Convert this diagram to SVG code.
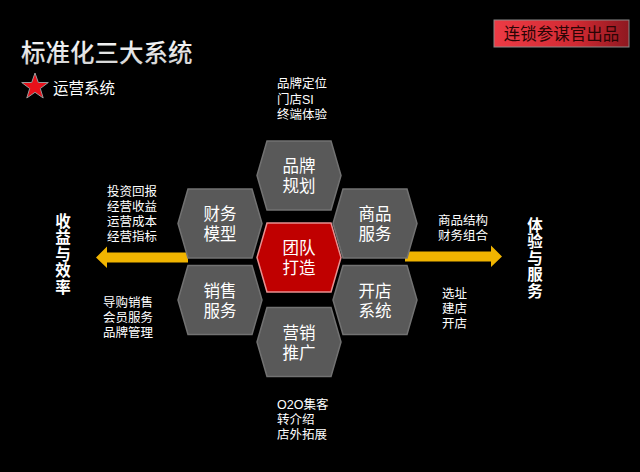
<svg xmlns="http://www.w3.org/2000/svg" width="640" height="472" viewBox="0 0 640 472">
<style>
text{font-family:"Noto Sans CJK SC","Noto Sans",sans-serif;fill:#fff}
.lbl{font-size:12.5px;font-family:"Liberation Sans","Noto Sans CJK SC",sans-serif}
.hx{font-size:16.5px;text-anchor:middle;font-family:"Liberation Sans","Noto Sans CJK SC",sans-serif}
.vt{font-size:15.5px;font-weight:bold;writing-mode:vertical-rl;letter-spacing:1px}
.hex{fill:#595959;stroke:#727272;stroke-width:1.5}
.hexc{fill:#c00000;stroke:#e89090;stroke-width:1.5}
.arr{fill:#f0b400}
</style>
<defs>
<linearGradient id="tag" x1="0" y1="0" x2="1" y2="0">
<stop offset="0" stop-color="#ec3b45"/>
<stop offset="0.6" stop-color="#d22a33"/>
<stop offset="1" stop-color="#8e1820"/>
</linearGradient>
<linearGradient id="ttl" x1="0" y1="0" x2="0" y2="1">
<stop offset="0" stop-color="#ffffff"/>
<stop offset="1" stop-color="#cfcfcf"/>
</linearGradient>
<polygon id="hexshape" points="-42,0 -32,-34.5 32,-34.5 42,0 32,34.5 -32,34.5"/>
</defs>
<rect width="640" height="472" fill="#000"/>

<g id="tag-label">
<rect x="494" y="20" width="135" height="27" fill="url(#tag)" stroke="#8a8a8a" stroke-width="1"/>
<text x="561.5" y="40" style="font-size:16.5px;fill:#2a0505" text-anchor="middle">连锁参谋官出品</text>
</g>

<g id="title">
<text x="21" y="62" style="font-size:24.5px;font-weight:500;fill:url(#ttl)">标准化三大系统</text>
</g>

<g id="legend">
<polygon points="35,73 38.3,82.5 48.3,82.5 40.3,88.5 43.2,98 35,92.3 26.8,98 29.7,88.5 21.7,82.5 31.7,82.5" fill="#e8101a" stroke="#9a9a9a" stroke-width="1"/>
<text x="53" y="94" style="font-size:15.5px">运营系统</text>
</g>

<g id="connectors">
<polygon class="arr" points="188,252.5 107,252.5 107,246.5 96,257.5 107,268 107,262.5 188,262.5"/>
<polygon class="arr" points="405,251.5 491,251.5 491,245.5 502,256.5 491,267 491,261.5 405,261.5"/>
</g>

<g id="node-brand">
<use href="#hexshape" class="hex" x="299" y="175.5"/>
<text class="hx" x="299" y="172">品牌<tspan x="299" dy="20">规划</tspan></text>
</g>
<g id="node-team">
<use href="#hexshape" class="hexc" x="299" y="257.5"/>
<text class="hx" x="299" y="254">团队<tspan x="299" dy="20">打造</tspan></text>
</g>
<g id="node-marketing">
<use href="#hexshape" class="hex" x="299" y="342"/>
<text class="hx" x="299" y="338.5">营销<tspan x="299" dy="20">推广</tspan></text>
</g>
<g id="node-finance">
<use href="#hexshape" class="hex" x="220" y="223.5"/>
<text class="hx" x="220" y="220">财务<tspan x="220" dy="20">模型</tspan></text>
</g>
<g id="node-sales">
<use href="#hexshape" class="hex" x="220" y="300"/>
<text class="hx" x="220" y="296.5">销售<tspan x="220" dy="20">服务</tspan></text>
</g>
<g id="node-goods">
<use href="#hexshape" class="hex" x="375" y="223.5"/>
<text class="hx" x="375" y="220">商品<tspan x="375" dy="20">服务</tspan></text>
</g>
<g id="node-store">
<use href="#hexshape" class="hex" x="375" y="300"/>
<text class="hx" x="375" y="296.5">开店<tspan x="375" dy="20">系统</tspan></text>
</g>

<g id="label-brand">
<text class="lbl" x="277" y="88">品牌定位<tspan x="277" dy="16">门店SI</tspan><tspan x="277" dy="15">终端体验</tspan></text>
</g>
<g id="label-finance">
<text class="lbl" x="107" y="196">投资回报<tspan x="107" dy="15">经营收益</tspan><tspan x="107" dy="15">运营成本</tspan><tspan x="107" dy="15">经营指标</tspan></text>
</g>
<g id="label-sales">
<text class="lbl" x="103" y="307">导购销售<tspan x="103" dy="15">会员服务</tspan><tspan x="103" dy="15">品牌管理</tspan></text>
</g>
<g id="label-goods">
<text class="lbl" x="438" y="225">商品结构<tspan x="438" dy="15">财务组合</tspan></text>
</g>
<g id="label-store">
<text class="lbl" x="442" y="298">选址<tspan x="442" dy="15">建店</tspan><tspan x="442" dy="15">开店</tspan></text>
</g>
<g id="label-marketing">
<text class="lbl" x="277" y="409">O2O集客<tspan x="277" dy="15">转介绍</tspan><tspan x="277" dy="15">店外拓展</tspan></text>
</g>

<g id="side-left">
<text class="vt" x="63" y="213">收益与效率</text>
</g>
<g id="side-right">
<text class="vt" x="535" y="217">体验与服务</text>
</g>
</svg>
